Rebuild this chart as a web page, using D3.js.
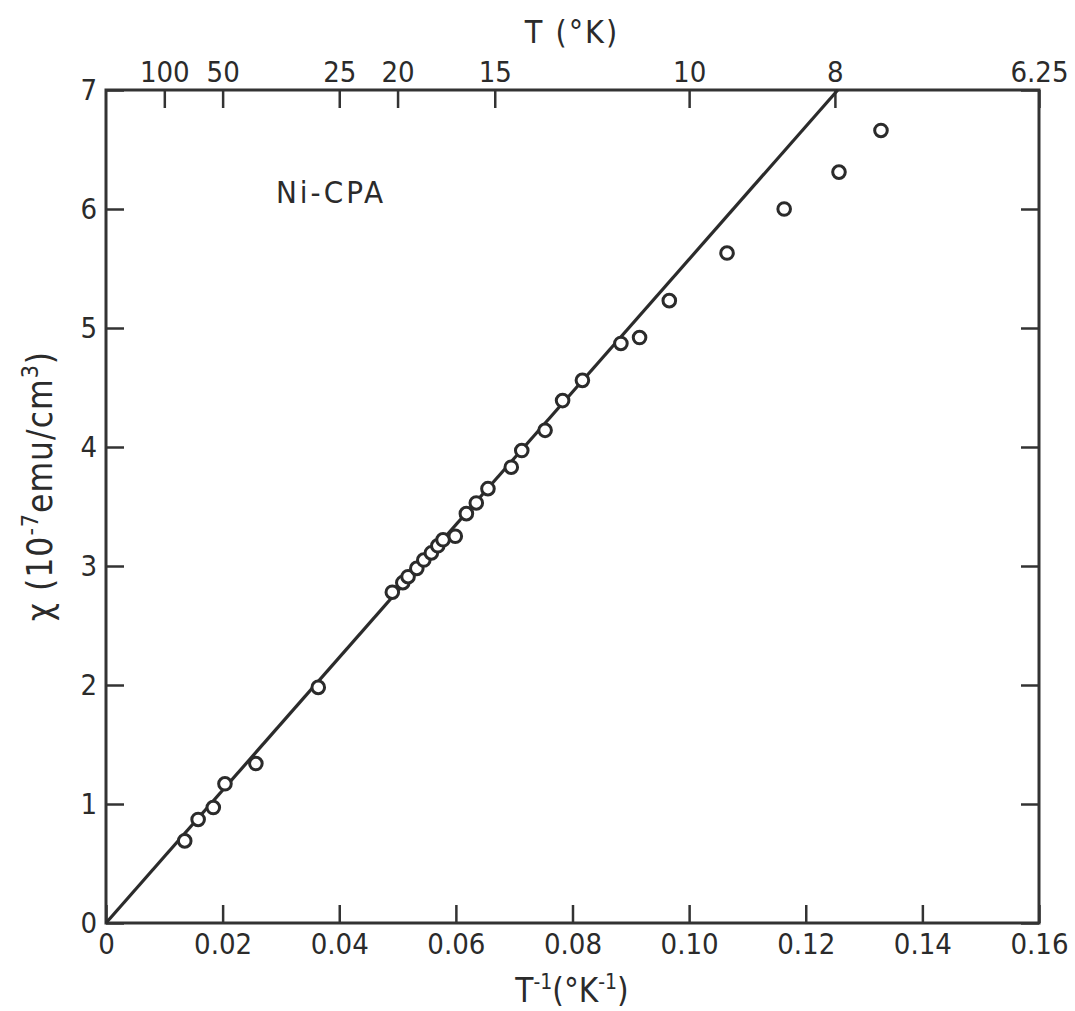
<!DOCTYPE html>
<html>
<head>
<meta charset="utf-8">
<script src="https://cdn.jsdelivr.net/npm/d3@7"></script>
<style>
  body { margin: 0; background: #fff; }
  svg text { font-family: "DejaVu Sans Condensed", "Liberation Sans Narrow", sans-serif; fill: #2b2b2b; }
  .axis path.domain { display: none; }
  .axis line { stroke: #333; stroke-width: 2.5px; }
  .axis text { font-size: 29px; }
</style>
</head>
<body>
<div id="chart"></div>
<script>

      // data: T^-1 (K^-1) and chi (1e-7 emu/cm^3)
      var invT = [0.0135, 0.0158, 0.0184, 0.0204, 0.0257, 0.0364, 0.0491, 0.0509, 0.0518, 0.0533,
                  0.0545, 0.0558, 0.0569, 0.0578, 0.0599, 0.0618, 0.0635, 0.0655, 0.0695, 0.0713,
                  0.0753, 0.0783, 0.0817, 0.0883, 0.0915, 0.0966, 0.1065, 0.1163, 0.1257, 0.1329];
      var chi  = [0.69, 0.87, 0.97, 1.17, 1.34, 1.98, 2.78, 2.86, 2.91, 2.98,
                  3.05, 3.11, 3.17, 3.22, 3.25, 3.44, 3.53, 3.65, 3.83, 3.97,
                  4.14, 4.39, 4.56, 4.87, 4.92, 5.23, 5.63, 6.00, 6.31, 6.66];

      // straight line drawn through the low-T^-1 points
      var fitInvT = [0, 0.1255];
      var fitChi  = [0, 7];

      var xTicks = [0, 0.02, 0.04, 0.06, 0.08, 0.10, 0.12, 0.14, 0.16];
      var xTickLabels = ["0", "0.02", "0.04", "0.06", "0.08", "0.10", "0.12", "0.14", "0.16"];
      var yTicks = [0, 1, 2, 3, 4, 5, 6, 7];
      var topTicksT = [100, 50, 25, 20, 15, 10, 8, 6.25];

      var margin = {top: 90, right: 36, bottom: 88, left: 106};

      var width = 1075 - margin.left - margin.right,
          height = 1011 - margin.top - margin.bottom;

      var svg = d3.select("#chart").append("svg")
                .attr("width", 1075)
                .attr("height", 1011);

      var canvas = svg.append("g")
                .attr("transform", "translate(" + margin.left + "," + margin.top + ")");

      ////// Define Scales /////////////////
      var xScale = d3.scaleLinear()
          .domain([0, 0.16])
          .range([0, width]);
      var yScale = d3.scaleLinear()
          .domain([0, 7])
          .range([height, 0]);

      /////// Define Axis //////////////////////////////
      var xAxis = d3.axisBottom(xScale)
          .tickValues(xTicks)
          .tickFormat(function(d, i) { return xTickLabels[i]; })
          .tickSize(-18).tickPadding(10);

      var xAxisTop = d3.axisTop(xScale)
          .tickValues(topTicksT.map(function(t) { return 1 / t; }))
          .tickFormat(function(d, i) { return topTicksT[i]; })
          .tickSize(-18).tickPadding(8);

      var yAxis = d3.axisLeft(yScale)
          .tickValues(yTicks)
          .tickFormat(d3.format("d"))
          .tickSize(-18).tickPadding(9);

      var yAxisRight = d3.axisRight(yScale)
          .tickValues(yTicks)
          .tickFormat('')
          .tickSize(-18);

      // append Axes ///////////////////////////
      canvas.append("g")
          .attr("class", "x axis")
          .attr("transform", "translate(0," + height + ")")
          .call(xAxis);

      canvas.append("g")
          .attr("class", "x axis top")
          .call(xAxisTop);

      canvas.append("g")
          .attr("class", "y axis")
          .call(yAxis);

      canvas.append("g")
          .attr("class", "y axis right")
          .attr("transform", "translate(" + width + ",0)")
          .call(yAxisRight);

      // frame
      canvas.append("rect")
          .attr("width", width)
          .attr("height", height)
          .attr("fill", "none")
          .attr("stroke", "#333")
          .attr("stroke-width", 3);

      // fitted line
      var line = d3.line()
          .x(function(d) { return xScale(d[0]); })
          .y(function(d) { return yScale(d[1]); });

      canvas.append("path")
          .datum(d3.zip(fitInvT, fitChi))
          .attr("d", line)
          .attr("fill", "none")
          .attr("stroke", "#2b2b2b")
          .attr("stroke-width", 3.2);

      // data points
      canvas.append("g")
          .selectAll(".pt")
          .data(d3.zip(invT, chi))
          .enter()
          .append("circle")
          .attr("class", "pt")
          .attr("cx", function(d) { return xScale(d[0]); })
          .attr("cy", function(d) { return yScale(d[1]); })
          .attr("r", 6.3)
          .attr("fill", "#fff")
          .attr("stroke", "#2b2b2b")
          .attr("stroke-width", 3);

      // sample label
      canvas.append("text")
          .attr("x", 170)
          .attr("y", 113)
          .style("font-size", "31px")
          .style("letter-spacing", "3px")
          .text("Ni-CPA");

      // top axis title
      svg.append("text")
          .attr("x", 572)
          .attr("y", 43)
          .attr("text-anchor", "middle")
          .style("font-size", "32px")
          .style("letter-spacing", "2px")
          .text("T (°K)");

      // bottom axis title
      var xt = svg.append("text")
          .attr("x", 572)
          .attr("y", 1002)
          .attr("text-anchor", "middle")
          .style("font-size", "33px");
      xt.append("tspan").text("T");
      xt.append("tspan").attr("dy", -13).style("font-size", "21px").text("-1");
      xt.append("tspan").attr("dy", 13).text("(°K");
      xt.append("tspan").attr("dy", -13).style("font-size", "21px").text("-1");
      xt.append("tspan").attr("dy", 13).text(")");

      // left axis title
      var yt = svg.append("text")
          .attr("transform", "translate(52,486) rotate(-90)")
          .attr("text-anchor", "middle")
          .style("font-size", "35px")
          .style("letter-spacing", "1px");
      yt.append("tspan").text("χ (10");
      yt.append("tspan").attr("dy", -14).style("font-size", "23px").text("-7");
      yt.append("tspan").attr("dy", 14).text("emu/cm");
      yt.append("tspan").attr("dy", -14).style("font-size", "23px").text("3");
      yt.append("tspan").attr("dy", 14).text(")");

</script>
</body>
</html>
